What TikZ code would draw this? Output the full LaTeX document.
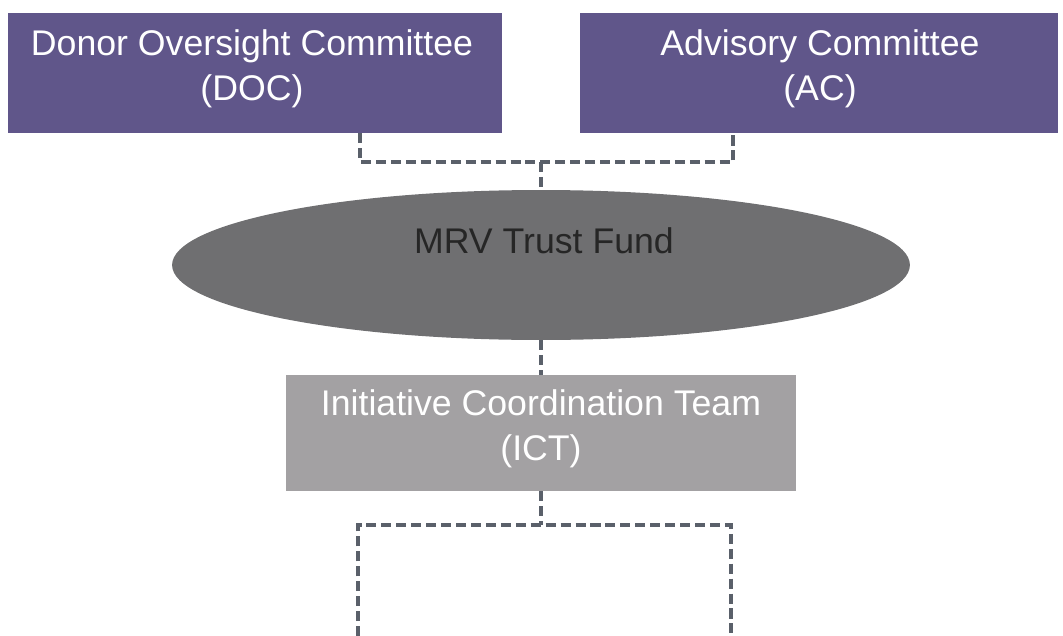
\documentclass[tikz,border=0pt]{standalone}
\usepackage{fontspec}
\setmainfont{Liberation Sans}
\usetikzlibrary{shapes.geometric}

\definecolor{docpurple}{HTML}{60568A}
\definecolor{fundgray}{HTML}{6F6F71}
\definecolor{ictgray}{HTML}{A3A1A3}
\definecolor{linkgray}{HTML}{5A606A}

\tikzset{
  unitbox/.style={rectangle,inner sep=0pt,minimum height=2.4cm},
  unittext/.style={align=center,inner sep=0pt,font=\fontsize{20.3}{25.6}\selectfont},
  link/.style={draw=linkgray,line width=2pt,dash pattern=on 5.7pt off 2.8pt},
}

\begin{document}
\begin{tikzpicture}[x=0.02cm,y=-0.02cm]
	\useasboundingbox (0,0) rectangle (1063,636);
	% committees on top
	\node[unitbox,fill=docpurple,minimum width=9.88cm] (doc) at (255,73) {};
	\node[unitbox,fill=docpurple,minimum width=9.56cm] (ac) at (819,73) {};
	\node[unittext,text=white] (doctext) at (252,69) {Donor Oversight Committee\\(DOC)};
	\node[unittext,text=white] (actext) at (820,69) {Advisory Committee\\(AC)};
	% the fund
	\node[ellipse,fill=fundgray,inner sep=0pt,minimum width=14.76cm,minimum height=3cm] (fund) at (541,265) {};
	\node[unittext,text=black!85] (fundtext) at (544,241) {MRV Trust Fund};
	% coordination team
	\node[unitbox,fill=ictgray,minimum width=10.2cm,minimum height=2.32cm] (ict) at (541,433) {};
	\node[unittext,text=white] (icttext) at (541,429) {Initiative Coordination Team\\(ICT)};
	% dashed links
	\coordinate (docdrop) at (360,162);
	\coordinate (acdrop) at (733,162);
	\coordinate (split) at (541,525);
	\coordinate (leftend) at (358,636);
	\coordinate (rightend) at (731,636);
	\draw[link] (doc.south -| docdrop) -- (docdrop) -- (acdrop) -- (ac.south -| acdrop);
	\draw[link] (fund.north |- docdrop) -- (fund.north);
	\draw[link] (fund.south) -- (ict.north);
	\draw[link] (ict.south) -- (split);
	\draw[link] (leftend) -- (leftend |- split) -- (rightend |- split) -- (rightend);
\end{tikzpicture}
\end{document}
